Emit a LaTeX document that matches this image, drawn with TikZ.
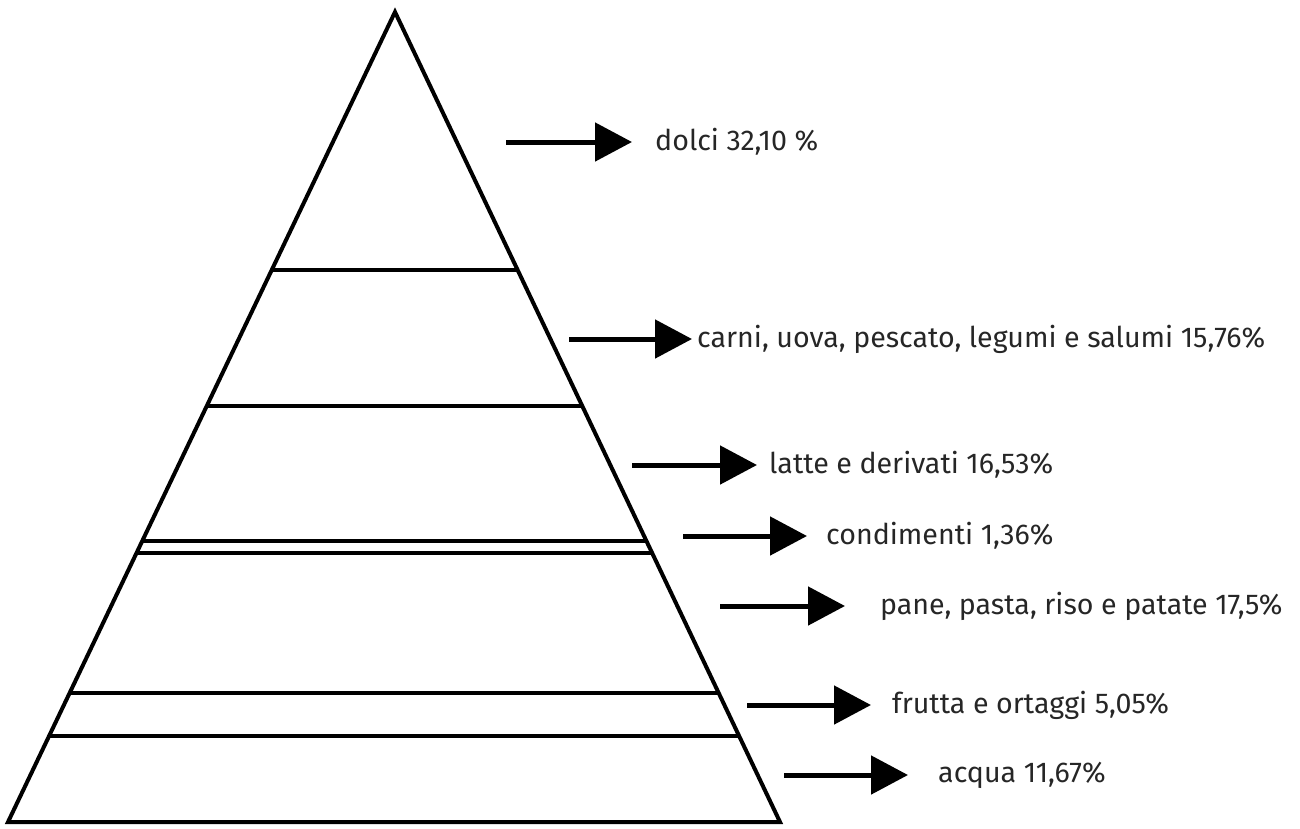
\documentclass[tikz,border=0pt]{standalone}
\usepackage{fontspec}
\setmainfont{Fira Sans}
\usetikzlibrary{arrows.meta,calc}
\begin{document}
\begin{tikzpicture}[x=1pt,y=-1pt,
  edge/.style={line width=4pt},
  arr/.style={line width=5pt,-{Triangle[length=37pt,width=38pt]}},
  lab/.style={anchor=west,inner sep=0pt,font=\fontsize{28.6}{32}\selectfont,text=black!85}]
\useasboundingbox (0,0) rectangle (1300,828);
\coordinate (A) at (395,12);
\coordinate (L) at (8,822);
\coordinate (R) at (780,822);
\draw[edge,line join=miter] (A) -- (R) -- (L) -- cycle;
\foreach \t in {0.3185,0.4864,0.6531,0.6679,0.8407,0.8938}{
  \draw[edge] ($(A)!\t!(L)$) -- ($(A)!\t!(R)$);
}
\node[lab] (t1) at (655,142) {dolci 32,10 \%};
\node[lab] (t2) at (697,339) {carni, uova, pescato, legumi e salumi 15,76\%};
\node[lab] (t3) at (769,465) {latte e derivati 16,53\%};
\node[lab] (t4) at (826,536) {condimenti 1,36\%};
\node[lab] (t5) at (880,606) {pane, pasta, riso e patate 17,5\%};
\node[lab] (t6) at (892,705) {frutta e ortaggi 5,05\%};
\node[lab] (t7) at (938,775) {acqua 11,67\%};
\coordinate (s1) at (506,142);
\coordinate (s2) at (569,339);
\coordinate (s3) at (632,465);
\coordinate (s4) at (683,536);
\coordinate (s5) at (720,606);
\coordinate (s6) at (747,705);
\coordinate (s7) at (784,775);
\draw[arr] (s1) -- ([xshift=-23pt]t1.west);
\draw[arr] (s2) -- ([xshift=-5pt]t2.west);
\draw[arr] (s3) -- ([xshift=-12pt]t3.west);
\draw[arr] (s4) -- ([xshift=-19pt]t4.west);
\draw[arr] (s5) -- ([xshift=-35pt]t5.west);
\draw[arr] (s6) -- ([xshift=-21pt]t6.west);
\draw[arr] (s7) -- ([xshift=-30pt]t7.west);
\end{tikzpicture}
\end{document}
